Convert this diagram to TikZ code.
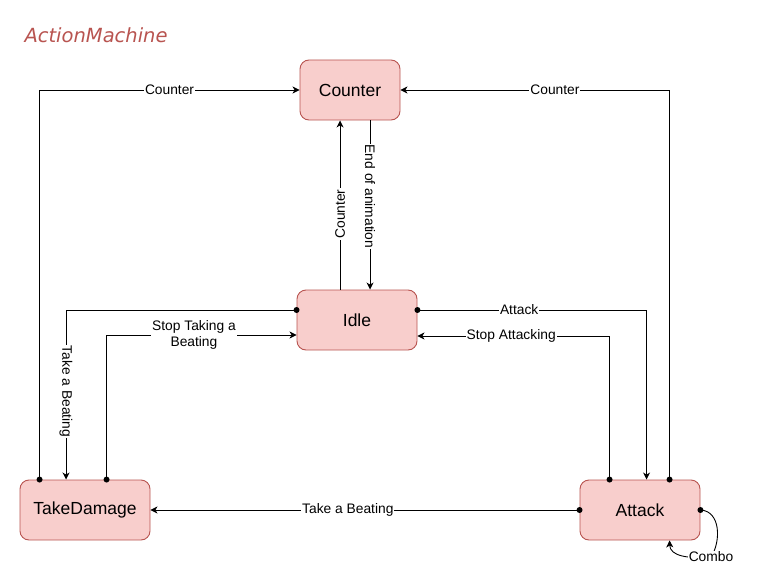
\documentclass[tikz,border=0pt]{standalone}
\usepackage{fontspec}
\setmainfont{Liberation Sans}
\newfontfamily\titlefont{DejaVu Sans}
\usetikzlibrary{arrows.meta,calc}
\definecolor{boxfill}{HTML}{F8CECC}
\definecolor{boxline}{HTML}{B85450}
\begin{document}
\begin{tikzpicture}[x=1pt,y=-1pt,
  state/.style={draw=boxline,fill=boxfill,line width=0.9pt,rounded corners=9pt,
    font=\fontsize{17.5}{20}\selectfont,inner sep=0pt},
  conn/.style={line width=0.9pt,-{Stealth[length=7pt,width=7pt,inset=2pt]}},
  lbl/.style={fill=white,inner sep=1pt,font=\fontsize{13.8}{15.5}\selectfont},
  dotm/.style={fill=black}]
\useasboundingbox (0,0) rectangle (758,586);
\node[anchor=base west,text=boxline,font=\titlefont\itshape\fontsize{19.5}{22}\selectfont] (title) at (21,43) {ActionMachine};
\node[state,minimum width=100pt,minimum height=60pt] (Counter) at (350,90) {Counter};
\node[state,minimum width=120pt,minimum height=60pt] (Idle) at (357,320) {Idle};
\node[state,minimum width=130pt,minimum height=60pt] (TakeDamage) at (85,510) {TakeDamage};
\node[state,minimum width=120pt,minimum height=60pt] (Attack) at (640,510) {Attack};
% named points
\coordinate (tdA) at ($(TakeDamage.north west)+(20,0)$);
\coordinate (tdB) at ($(TakeDamage.north west)+(46.5,0)$);
\coordinate (tdC) at ($(TakeDamage.north west)+(87,0)$);
\coordinate (atA) at ($(Attack.north west)+(30,0)$);
\coordinate (atB) at ($(Attack.north west)+(67,0)$);
\coordinate (atC) at ($(Attack.north west)+(90,0)$);
\coordinate (atD) at ($(Attack.south west)+(90,0)$);
\coordinate (idA) at ($(Idle.north west)+(43.5,0)$);
\coordinate (idB) at ($(Idle.north west)+(73.5,0)$);
\coordinate (idL1) at ($(Idle.west)+(0,-10)$);
\coordinate (idL2) at ($(Idle.west)+(0,15)$);
\coordinate (idR1) at ($(Idle.east)+(0,-10)$);
\coordinate (idR2) at ($(Idle.east)+(0,16)$);
\coordinate (coA) at ($(Counter.south west)+(40.5,0)$);
\coordinate (coB) at ($(Counter.south west)+(70.5,0)$);
% edges
\draw[conn] (tdA) |- node[lbl,pos=0.75]{Counter} (Counter.west);
\draw[conn] (atC) |- node[lbl,pos=0.713]{Counter} (Counter.east);
\draw[conn] (idA) -- node[lbl,pos=0.447,rotate=90]{Counter} (coA);
\draw[conn] (coB) -- node[lbl,pos=0.45,rotate=-90]{End of animation} (idB);
\draw[conn] (idL1) -| node[lbl,pos=0.74,rotate=-90]{Take a Beating} (tdB);
\draw[conn] (tdC) |- node[lbl,pos=0.73,align=center]{Stop Taking a\\Beating} (idL2);
\draw[conn] (idR1) -| node[lbl,pos=0.222]{Attack} (atB);
\draw[conn] (atA) |- node[lbl,pos=0.756]{Stop Attacking} (idR2);
\draw[conn] (Attack.west) -- node[lbl,pos=0.54]{Take a Beating} (TakeDamage.east);
\draw[conn] (Attack.east) .. controls (721,511) and (721,542) .. (711,557)
  .. controls (688,559) and (670,556) .. (atD);
\node[lbl] (combo) at (711,557) {Combo};
% dots
\foreach \p in {tdA,tdC,atA,atC,idL1,idR1}{\fill[dotm] (\p) circle (3pt);}
\fill[dotm] (Attack.west) circle (3pt);
\fill[dotm] (Attack.east) circle (3pt);
\end{tikzpicture}
\end{document}
